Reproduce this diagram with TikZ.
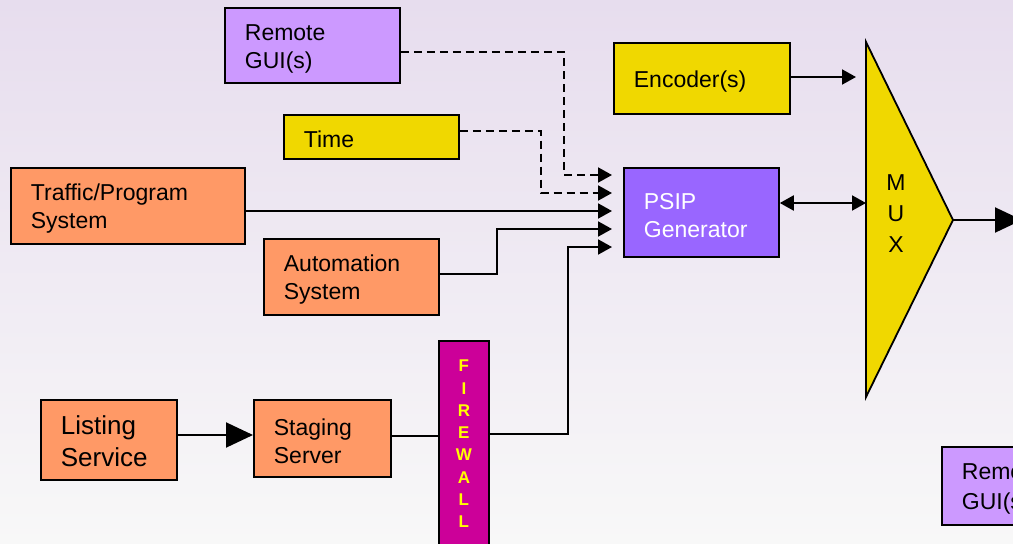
\documentclass[tikz,border=0pt]{standalone}
\usepackage{fontspec}
\setmainfont{Liberation Sans}
\usetikzlibrary{arrows.meta}

\definecolor{bgtop}{RGB}{231,221,238}
\definecolor{bgmid}{RGB}{243,240,246}
\definecolor{bgbot}{RGB}{248,248,248}
\definecolor{lilac}{RGB}{204,153,255}
\definecolor{violet}{RGB}{153,102,255}
\definecolor{gold}{RGB}{240,216,0}
\definecolor{salmon}{RGB}{255,153,102}
\definecolor{magentabox}{RGB}{204,0,153}
\definecolor{fwtext}{RGB}{255,255,0}

\tikzset{
  block/.style n args={2}{draw=black, line width=1.8pt, anchor=north west,
    inner xsep=20pt, inner ysep=0pt, align=left,
    text width=#1pt-40pt, minimum height=#2pt,
    execute at begin node={\rule{0pt}{22pt}},
    font=\fontsize{23}{28}\selectfont},
  wire/.style={line width=2pt},
  dashwire/.style={line width=2pt, dash pattern=on 8pt off 5pt},
  tip/.style={-{Triangle[length=14pt,width=15pt]}},
  bigtip/.style={-{Triangle[length=27pt,width=25pt]}},
}

\begin{document}
\begin{tikzpicture}[x=1pt,y=-1pt]
  \clip (0,0) rectangle (1013,544);
  \useasboundingbox (0,0) rectangle (1013,544);
  \shade[top color=bgtop, middle color=bgmid, bottom color=bgbot] (0,0) rectangle (1013,544);

  % source blocks
  \node[block={175}{75}, fill=lilac] (remote) at (224,7) {Remote\\GUI(s)};
  \node[block={175}{44}, fill=gold] (time) at (283,114) {Time};
  \node[block={176}{71}, fill=gold] (enc) at (613,42) {Encoder(s)};
  \node[block={234}{76}, fill=salmon] (traffic) at (10,167) {Traffic/Program\\System};
  \node[block={175}{76}, fill=salmon] (auto) at (263,238) {Automation\\System};
  \node[block={155}{89}, fill=violet, text=white] (psip) at (623,167) {PSIP\\Generator};
  \node[block={136}{80}, fill=salmon, font=\fontsize{26}{32}\selectfont] (listing) at (40,399) {Listing\\Service};
  \node[block={137}{77}, fill=salmon] (staging) at (253,399) {Staging\\Server};
  \node[block={175}{78}, fill=lilac, font=\fontsize{23}{30}\selectfont] (remote2) at (941,446) {Remote\\GUI(s)};

  % firewall
  \node[draw=black, line width=1.8pt, fill=magentabox, anchor=north west,
        minimum width=50pt, minimum height=206pt, inner sep=0pt, align=center,
        text=fwtext, font=\bfseries\fontsize{17}{22.3}\selectfont] (fw) at (438,340)
        {F\\I\\R\\E\\W\\A\\L\\L};

  % multiplexer
  \coordinate (muxa) at (866,42);
  \coordinate (muxb) at (866,397);
  \coordinate (muxc) at (953,220);
  \filldraw[fill=gold, draw=black, line width=1.8pt, line join=miter] (muxa) -- (muxc) -- (muxb) -- cycle;
  \node[align=center, font=\fontsize{23}{31}\selectfont] (mux) at (896,214) {M\\U\\X};
  \coordinate (out) at (1022,220);

  % inputs to the PSIP generator
  \draw[dashwire, tip, shorten >=11pt] ([yshift=-7pt]remote.east) -| (564,175) -- (psip.west |- 0,175);
  \draw[dashwire, tip, shorten >=11pt] ([yshift=6pt]time.east) -| (541,193) -- (psip.west |- 0,193);
  \draw[wire, tip, shorten >=11pt] (traffic.east |- 0,211) -- (psip.west |- 0,211);
  \draw[wire, tip, shorten >=11pt] (auto.east |- 0,274) -| (497,229) -- (psip.west |- 0,229);
  \draw[wire] (staging.east |- 0,436) -- (fw.west |- 0,436);
  \draw[wire, tip, shorten >=11pt] (fw.east |- 0,434) -| (568,247) -- (psip.west |- 0,247);
  \draw[wire, bigtip] (listing.east |- 0,435) -- (staging.west |- 0,435);

  % multiplexer connections
  \draw[wire, {Triangle[length=14pt,width=15pt]}-{Triangle[length=14pt,width=15pt]}] (psip.east |- 0,203) -- (muxa |- 0,203);
  \draw[wire, tip, shorten >=10pt] (enc.east |- 0,77) -- (muxa |- 0,77);
  \draw[wire, bigtip] (muxc) -- (out);
\end{tikzpicture}
\end{document}
